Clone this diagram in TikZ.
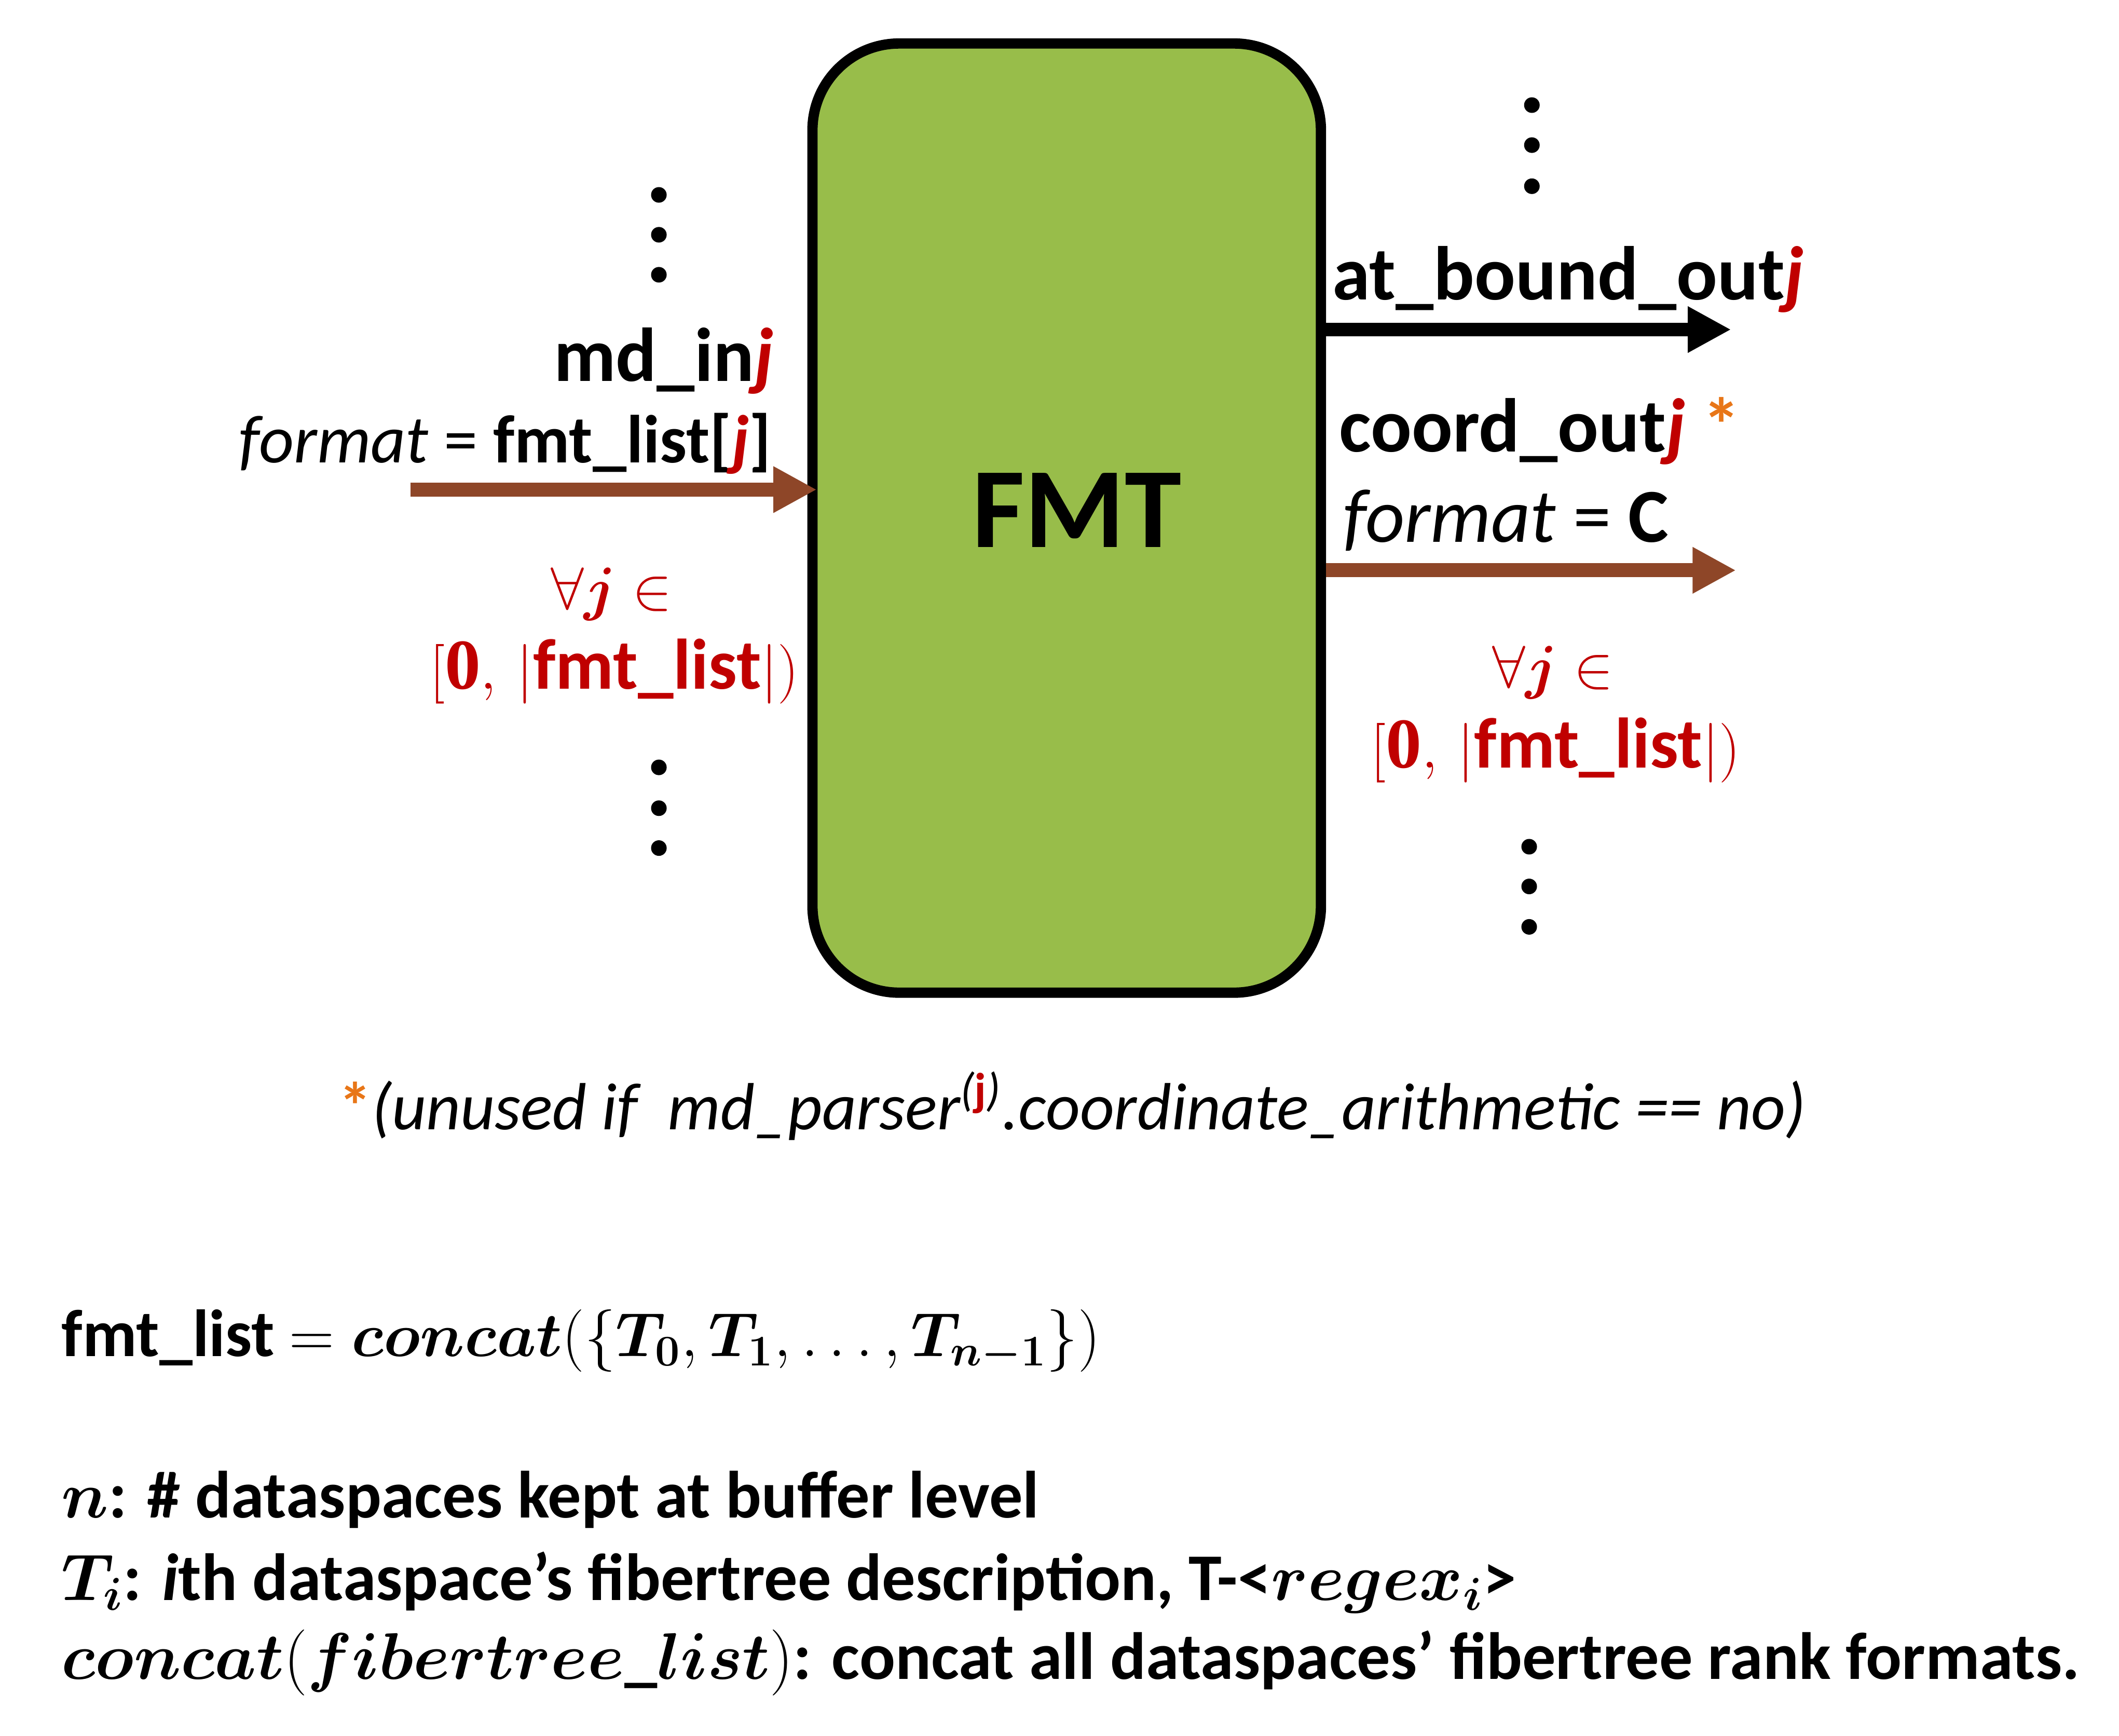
\RequirePackage{fix-cm}
\documentclass[tikz,border=0pt]{standalone}
\usepackage{amsmath,bm}
\usepackage[no-math]{fontspec}
\setmainfont{Carlito}
\newfontfamily\numfont{Liberation Serif}
\usepackage{tikz}
\usetikzlibrary{arrows.meta,positioning}

\definecolor{fmtgreen}{RGB}{152,189,74}
\definecolor{mdbrown}{RGB}{142,70,40}
\definecolor{jred}{RGB}{192,0,0}
\definecolor{staror}{RGB}{232,118,24}
\newcommand{\jr}{\textcolor{jred}{\textbf{\textit{j}}}}
\newcommand{\bmath}[2][27.7]{{\fontsize{#1}{32}\selectfont$#2$}}

\begin{document}
\begin{tikzpicture}[x=0.02cm, y=-0.02cm,
    lbl/.style={inner sep=0pt, font=\fontsize{32}{38}\selectfont\bfseries},
    sublbl/.style={inner sep=0pt, font=\fontsize{28.5}{34}\selectfont\bfseries},
    rng/.style={inner sep=0pt, font=\fontsize{30}{36}\selectfont\bfseries, text=jred},
    txt/.style={inner sep=0pt, font=\fontsize{28}{33}\selectfont\bfseries},
    dot/.style={circle, fill=black, inner sep=0pt, minimum size=0.23cm},
    flow/.style={line width=0.206cm, -{Triangle[length=0.64cm,width=0.64cm]}}]
  \useasboundingbox (0,0) rectangle (1562.4,1280);
  \node[draw, line width=0.152cm, fill=fmtgreen, rounded corners=1.28cm,
        minimum width=7.5cm, minimum height=14cm] (fmt) at (786.5,382) {};
  \node[inner sep=0pt, font=\fontsize{48}{58}\selectfont\bfseries] (fmtname) at (794,376) {FMT};
%  inputs
  \foreach \y [count=\i] in {143.7,173.1,202.6} \node[dot] (dotLa\i) at (485.8,\y) {};
  \foreach \y [count=\i] in {565.8,595.9,625.3} \node[dot] (dotLb\i) at (485.8,\y) {};
  \node[lbl, anchor=base east] (mdin) at (571,281) {md\_in\jr};
  \node[sublbl, anchor=base east] (fmtin) at (569,341) {{\mdseries\itshape format} {\mdseries =} fmt\_list[\jr]};
  \node[rng, anchor=base] (allL) at (451,449) {\bmath[25]{\forall\bm{j}\in}};
  \node[rng, anchor=base] (rangeL) at (453,508) {\bmath[25]{[}{\numfont 0}\bmath[25]{,\,|}fmt\_list\bmath[25]{|)}};
  \coordinate (inL) at (302.6,361);
  \draw[flow, mdbrown, shorten >=-0.14cm] (inL) -- (inL -| fmt.west);
%  outputs
  \foreach \y [count=\i] in {77.5,107,137.3} \node[dot] (dotRa\i) at (1129.5,\y) {};
  \foreach \y [count=\i] in {624.3,653.6,683.4} \node[dot] (dotRb\i) at (1127.5,\y) {};
  \node[lbl, anchor=base west] (atbound) at (982,221) {at\_bound\_out\jr};
  \node[lbl, anchor=base west] (coordout) at (987,333) {coord\_out\jr\ \textcolor{staror}{*}};
  \node[lbl, anchor=base west] (fmtout) at (990,399.5) {{\mdseries\itshape format} {\mdseries =} C};
  \node[rng, anchor=base] (allR) at (1145,507) {\bmath[25]{\forall\bm{j}\in}};
  \node[rng, anchor=base] (rangeR) at (1147,566) {\bmath[25]{[}{\numfont 0}\bmath[25]{,\,|}fmt\_list\bmath[25]{|)}};
  \coordinate (outA) at (1276.4,243);
  \coordinate (outC) at (1280,420.5);
  \draw[flow] (outA -| fmt.east) -- (outA);
  \draw[flow, mdbrown] (outC -| fmt.east) -- (outC);
%  notes
  \node[inner sep=0pt, anchor=base, font=\fontsize{28}{33}\selectfont\itshape] (note) at (790.5,833)
    {\textcolor{staror}{\upshape\bfseries *}(unused if\ \ md\_parser\textsuperscript{(\textcolor{jred}{\upshape\bfseries j})}.coordinate\_arithmetic == no)};
  \node[txt, anchor=base west] (fmtdef) at (45,1000)
    {fmt\_list \bmath[26.2]{=\bm{concat}(\{\bm{T}_{\bm{0}},\bm{T}_{\bm{1}},\ldots,\bm{T}_{\bm{n-1}}\})}};
  \node[txt, anchor=base west] (ndef) at (45,1119) {\bmath{\bm{n}}: \# dataspaces kept at buffer level};
  \node[txt, anchor=base west] (tdef) at (45,1180)
    {\bmath{\bm{T_i}}: \textit{i}th dataspace’s fibertree description, T-<\bmath{\bm{regex_i}}>};
  \node[txt, anchor=base west] (cdef) at (45,1238)
    {\bmath{\bm{concat}(\bm{fibertree\_list})}: concat all dataspaces’ fibertree rank formats.};
\end{tikzpicture}
\end{document}
